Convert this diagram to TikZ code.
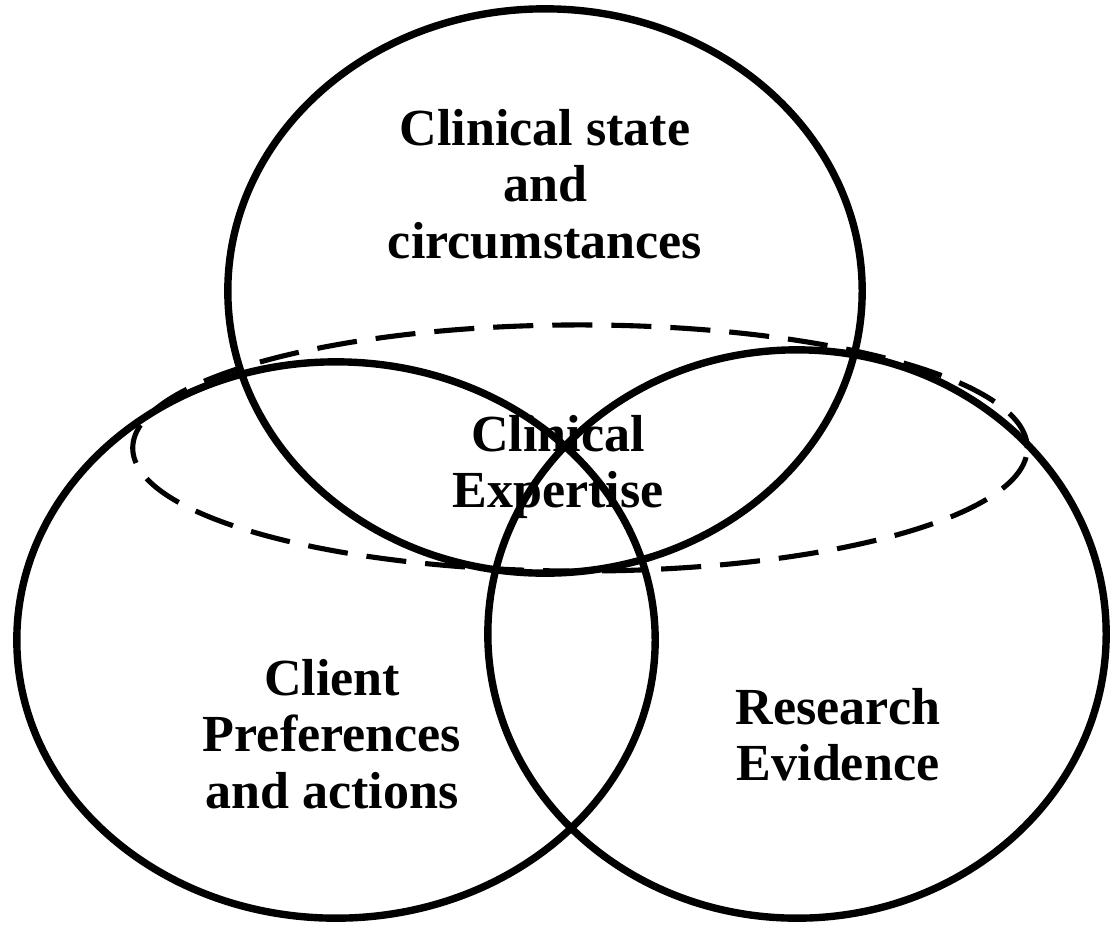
\documentclass[tikz,border=0pt]{standalone}
\usepackage{fontspec}
\setmainfont{Liberation Serif}
\usepackage{tikz}

\tikzset{
  ring/.style={line width=2.1pt},
  expertring/.style={line width=1.45pt, dash pattern=on 11.4pt off 5.4pt},
  label/.style={align=center, inner sep=0pt,
    font=\fontsize{14.8}{16}\selectfont\bfseries}
}

\begin{document}
\begin{tikzpicture}[x=0.01cm,y=-0.01cm]
    \useasboundingbox (0,0) rectangle (1110,927);
    % the three circles
    \draw[ring] (545,291) ellipse [x radius=3.17cm, y radius=2.82cm];
    \draw[ring] (336,640) ellipse [x radius=3.19cm, y radius=2.78cm];
    \draw[ring] (797,634) ellipse [x radius=3.09cm, y radius=2.84cm];
    % expertise band
    \draw[expertring] (580,448) ellipse [x radius=4.47cm, y radius=1.23cm];

    \node[label] (state) at (545,184) {Clinical state\\and\\circumstances};
    \node[label] (expertise) at (558,467) {Clinical\\Expertise};
    \node[label] (client) at (332,734) {Client\\Preferences\\and actions};
    \node[label] (research) at (838,735) {Research\\Evidence};
\end{tikzpicture}
\end{document}
